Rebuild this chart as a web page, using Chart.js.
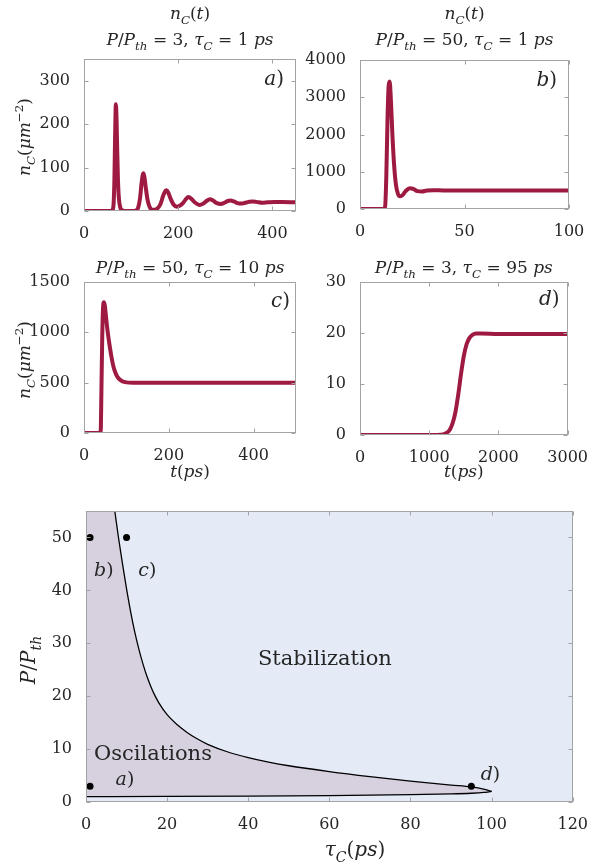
<!DOCTYPE html>
<html>
<head>
<meta charset="utf-8">
<script src="https://cdn.jsdelivr.net/npm/chart.js@4.4.1/dist/chart.umd.min.js"></script>
<style>
html, body { margin: 0; padding: 0; background: #fff; }
#wrap { position: relative; width: 593px; height: 867px; }
#wrap canvas { position: absolute; left: 0; top: 0; }
</style>
</head>
<body>
<div id="wrap">
  <canvas id="chartA" width="593" height="867"></canvas>
  <canvas id="chartB" width="593" height="867"></canvas>
  <canvas id="chartC" width="593" height="867"></canvas>
  <canvas id="chartD" width="593" height="867"></canvas>
  <canvas id="chartMap" width="593" height="867"></canvas>
</div>
<script>
// a) P/Pth = 3, tauC = 1 ps
const tA = [0, 58, 61, 63, 64.5, 66, 67.6, 69, 70.5, 72, 74, 77, 81, 90, 105, 110, 115, 119, 122, 124.5,
            126, 128, 131, 135, 140, 145, 150, 155, 162, 168, 172, 175, 179, 184, 190, 197, 203, 210, 216, 222,
            228, 235, 245, 253, 260, 267, 274, 282, 290, 298, 305, 311, 318, 326, 334, 342, 350, 357, 366, 378,
            390, 405, 420, 450];
const nA = [0, 0, 3, 20, 70, 170, 246, 215, 140, 75, 30, 8, 2, 0, 0, 1, 8, 30, 62, 82,
            87, 80, 55, 25, 8, 3, 3, 5, 15, 35, 45, 48, 42, 28, 15, 10, 12, 18, 27, 32,
            28, 20, 14, 17, 23, 27, 24, 18, 16, 19, 23, 24, 22, 18, 17, 19, 21, 22, 21, 19,
            20, 21, 20.5, 20];

// b) P/Pth = 50, tauC = 1 ps
const tB = [0, 11, 12, 12.6, 13.2, 13.7, 14.2, 14.8, 15.5, 16.3, 17.2, 18.2, 19.2, 20.5, 22, 23.8, 25.5, 27.5, 29.5, 32, 35, 40, 50, 70, 100];
const nB = [0, 0, 60, 900, 2500, 3300, 3420, 2900, 2000, 1200, 650, 400, 340, 380, 490, 560, 540, 480, 470, 495, 505, 500, 500, 500, 500];

// c) P/Pth = 50, tauC = 10 ps
const tC = [0, 38, 39.5, 41, 43, 45, 47, 49, 52, 56, 60, 65, 70, 76, 82, 90, 100, 115, 140, 200, 300, 500];
const nC = [0, 0, 30, 400, 950, 1250, 1300, 1270, 1150, 1000, 880, 750, 650, 580, 540, 515, 503, 500, 500, 500, 500, 500];

// d) P/Pth = 3, tauC = 95 ps
const tD = [0, 1000, 1200, 1250, 1300, 1340, 1380, 1420, 1460, 1500, 1540, 1580, 1620, 1680, 1750, 2000, 3000];
const nD = [0, 0, 0.1, 0.4, 1.1, 2.4, 4.6, 8, 12, 15.5, 17.8, 19, 19.6, 19.9, 19.9, 19.8, 19.8];

// phase map boundary
const tauUp = [7.1, 8, 9, 10, 11, 12, 13, 14, 15, 16, 17, 18, 20, 22.5, 25, 27.5, 30, 35, 40, 45, 50, 60, 70, 80, 90, 95, 98, 100];
const pUp   = [55, 50, 45, 40.3, 36, 32.2, 29, 26.2, 23.8, 21.8, 20.1, 18.7, 16.5, 14.6, 13.1, 11.9, 10.9, 9.45, 8.4, 7.55, 6.85, 5.75, 4.8, 3.95, 3.2, 2.85, 2.45, 2.0];
const tauLow = [0, 20, 40, 60, 80, 90, 95, 98, 100];
const pLow   = [1.0, 1.05, 1.12, 1.22, 1.38, 1.52, 1.65, 1.8, 2.0];
// the region above the top edge, so the fill reaches the frame
const tauTop = [0, 6.2];
const pTop   = [62, 60];

// simulated cases a), b), c), d)
const tauCases = [1, 1, 10, 95];
const pCases   = [3, 50, 50, 3];

// tick labels
const ticksAx = [0, 200, 400],         ticksAy = [0, 100, 200, 300];
const ticksBx = [0, 50, 100],          ticksBy = [0, 1000, 2000, 3000, 4000];
const ticksCx = [0, 200, 400],         ticksCy = [0, 500, 1000, 1500];
const ticksDx = [0, 1000, 2000, 3000], ticksDy = [0, 10, 20, 30];
const ticksMx = [0, 20, 40, 60, 80, 100, 120], ticksMy = [0, 10, 20, 30, 40, 50];

const LINE = '#9E1A41';
const AXIS = '#a3a3a3';
const INK = '#262626';
const SERIF = '"DejaVu Serif", serif';
const W = 593, H = 867, YAX = 60, XAX = 40;

function pts(xs, ys) { return xs.map((x, i) => ({ x: x, y: ys[i] })); }

// draw a line of math-ish text: parts = [[text, kind]], kind r / i / sub / sup
function mathText(ctx, parts, x, y, size, align) {
    const font = k => {
        const sz = (k === 'sub' || k === 'sup') ? size * 0.7 : size;
        const st = (k === 'r' || k === 'sup') ? '' : 'italic ';
        return st + sz + 'px ' + SERIF;
    };
    let w = 0;
    parts.forEach(p => { ctx.font = font(p[1]); w += ctx.measureText(p[0]).width; });
    let cx = align === 'center' ? x - w / 2 : (align === 'right' ? x - w : x);
    ctx.textAlign = 'left';
    ctx.textBaseline = 'alphabetic';
    ctx.fillStyle = INK;
    parts.forEach(p => {
        ctx.font = font(p[1]);
        const dy = p[1] === 'sub' ? size * 0.28 : (p[1] === 'sup' ? -size * 0.42 : 0);
        ctx.fillText(p[0], cx, y + dy);
        cx += ctx.measureText(p[0]).width;
    });
}

function rotText(ctx, parts, x, y, size) {
    ctx.save();
    ctx.translate(x, y);
    ctx.rotate(-Math.PI / 2);
    mathText(ctx, parts, 0, 0, size, 'center');
    ctx.restore();
}

function title2(p, tau) {
    return [['P', 'i'], ['/', 'r'], ['P', 'i'], ['th', 'sub'], [' = ' + p + ', ', 'r'],
            ['τ', 'i'], ['C', 'sub'], [' = ' + tau + ' ', 'r'], ['ps', 'i']];
}
const T_NC = [['n', 'i'], ['C', 'sub'], ['(', 'r'], ['t', 'i'], [')', 'r']];
const Y_NC = [['n', 'i'], ['C', 'sub'], ['(', 'r'], ['μm', 'i'], ['−2', 'sup'], [')', 'r']];
const X_T = [['t', 'i'], ['(', 'r'], ['ps', 'i'], [')', 'r']];

// MATLAB-like box with inward ticks
function framePlugin(bg, extra) {
    return {
        id: 'frame',
        beforeDraw(chart) {
            if (!bg) return;
            const a = chart.chartArea;
            chart.ctx.save();
            chart.ctx.fillStyle = bg;
            chart.ctx.fillRect(a.left, a.top, a.right - a.left, a.bottom - a.top);
            chart.ctx.restore();
        },
        afterDraw(chart) {
            const ctx = chart.ctx, a = chart.chartArea;
            const xs = chart.scales.x, ys = chart.scales.y;
            const L = Math.round(a.left) + 0.5, R = Math.round(a.right) - 0.5;
            const T = Math.round(a.top) + 0.5, B = Math.round(a.bottom) - 0.5;
            ctx.save();
            ctx.strokeStyle = AXIS;
            ctx.lineWidth = 1;
            ctx.beginPath();
            xs.ticks.forEach(t => {
                const px = Math.round(xs.getPixelForValue(t.value)) + 0.5;
                ctx.moveTo(px, B); ctx.lineTo(px, B - 4);
                ctx.moveTo(px, T); ctx.lineTo(px, T + 4);
            });
            ys.ticks.forEach(t => {
                const py = Math.round(ys.getPixelForValue(t.value)) + 0.5;
                ctx.moveTo(L, py); ctx.lineTo(L + 4, py);
                ctx.moveTo(R, py); ctx.lineTo(R - 4, py);
            });
            ctx.stroke();
            ctx.strokeRect(L, T, R - L, B - T);
            extra(chart, ctx, a, xs, ys);
            ctx.restore();
        }
    };
}

function scales(xMax, yMax, xTicks, yTicks) {
    const tickFont = { family: SERIF, size: 16 };
    const plain = v => String(v);
    return {
        x: {
            type: 'linear', min: 0, max: xMax,
            afterFit: s => { s.height = XAX; },
            afterBuildTicks: s => { s.ticks = xTicks.map(v => ({ value: v })); },
            grid: { display: false }, border: { display: false },
            ticks: { color: INK, font: tickFont, padding: 5, maxRotation: 0, autoSkip: false, callback: plain }
        },
        y: {
            type: 'linear', min: 0, max: yMax,
            afterFit: s => { s.width = YAX; },
            afterBuildTicks: s => { s.ticks = yTicks.map(v => ({ value: v })); },
            grid: { display: false }, border: { display: false },
            ticks: { color: INK, font: tickFont, padding: 6, autoSkip: false, callback: plain }
        }
    };
}

// box = plot area in page pixels
function baseOptions(box, sc) {
    return {
        responsive: false, animation: false, devicePixelRatio: 1, events: [],
        layout: { padding: { left: box[0] - YAX, top: box[1], right: W - box[2], bottom: H - box[3] - XAX } },
        plugins: { legend: { display: false }, tooltip: { enabled: false }, filler: { drawTime: 'beforeDatasetsDraw' } },
        scales: sc
    };
}

function seriesChart(id, t, n, box, xMax, yMax, xt, yt, extra) {
    return new Chart(document.getElementById(id), {
        type: 'scatter',
        data: {
            datasets: [{
                data: pts(t, n), showLine: true, borderColor: LINE, borderWidth: 4,
                pointRadius: 0, cubicInterpolationMode: 'monotone', borderJoinStyle: 'round'
            }]
        },
        options: baseOptions(box, scales(xMax, yMax, xt, yt)),
        plugins: [framePlugin(null, extra)]
    });
}

const chartA = seriesChart('chartA', tA, nA, [84, 59, 296, 211], 450, 350, ticksAx, ticksAy,
    (c, ctx, a) => {
        const mid = (a.left + a.right) / 2;
        mathText(ctx, T_NC, mid, 19, 17, 'center');
        mathText(ctx, title2(3, 1), mid, 45, 17, 'center');
        rotText(ctx, Y_NC, 30, 137, 17);
        mathText(ctx, [['a', 'i'], [')', 'r']], a.right - 12, 85, 20, 'right');
    });

const chartB = seriesChart('chartB', tB, nB, [360, 60, 569, 209], 100, 4000, ticksBx, ticksBy,
    (c, ctx, a) => {
        const mid = (a.left + a.right) / 2;
        mathText(ctx, T_NC, mid, 19, 17, 'center');
        mathText(ctx, title2(50, 1), mid, 45, 17, 'center');
        mathText(ctx, [['b', 'i'], [')', 'r']], a.right - 12, 86, 20, 'right');
    });

const chartC = seriesChart('chartC', tC, nC, [84, 282, 296, 433], 500, 1500, ticksCx, ticksCy,
    (c, ctx, a) => {
        const mid = (a.left + a.right) / 2;
        mathText(ctx, title2(50, 10), mid, 273, 17, 'center');
        rotText(ctx, Y_NC, 30, 360, 17);
        mathText(ctx, X_T, mid, 477, 17, 'center');
        mathText(ctx, [['c', 'i'], [')', 'r']], a.right - 6, 307, 20, 'right');
    });

const chartD = seriesChart('chartD', tD, nD, [360, 282, 571, 435], 3000, 30, ticksDx, ticksDy,
    (c, ctx, a) => {
        const mid = (a.left + a.right) / 2;
        mathText(ctx, title2(3, 95), mid, 273, 17, 'center');
        mathText(ctx, X_T, mid, 477, 17, 'center');
        mathText(ctx, [['d', 'i'], [')', 'r']], a.right - 8, 305, 20, 'right');
    });

// phase map labels, in data units (tauC, P/Pth)
const caseLabels = [['a', 7.3, 3.2], ['b', 2.0, 42.8], ['c', 12.9, 42.8], ['d', 97.3, 4.2]];

const chartMap = new Chart(document.getElementById('chartMap'), {
    type: 'scatter',
    data: {
        datasets: [
            {   // oscillation region
                data: pts(tauTop.concat(tauUp), pTop.concat(pUp)), showLine: true, borderWidth: 0,
                pointRadius: 0, cubicInterpolationMode: 'monotone',
                backgroundColor: '#D7D1DF', fill: 2, order: 5
            },
            {
                data: pts(tauUp, pUp), showLine: true, borderColor: '#000', borderWidth: 1.3,
                pointRadius: 0, cubicInterpolationMode: 'monotone', fill: false
            },
            {
                data: pts(tauLow, pLow), showLine: true, borderColor: '#000', borderWidth: 1.3,
                pointRadius: 0, cubicInterpolationMode: 'monotone', fill: false
            },
            {
                data: pts(tauCases, pCases), showLine: false, pointRadius: 3.5,
                pointBackgroundColor: '#000', pointBorderWidth: 0, order: -1
            }
        ]
    },
    options: baseOptions([86, 511, 576, 802], scales(120, 55, ticksMx, ticksMy)),
    plugins: [framePlugin('#E4EBF6', (c, ctx, a, xs, ys) => {
        mathText(ctx, [['τ', 'i'], ['C', 'sub'], ['(', 'r'], ['ps', 'i'], [')', 'r']], 355, 856, 20, 'center');
        rotText(ctx, [['P', 'i'], ['/', 'r'], ['P', 'i'], ['th', 'sub']], 35, 660, 20);
        mathText(ctx, [['Stabilization', 'r']], xs.getPixelForValue(58.9), ys.getPixelForValue(25.8), 21, 'center');
        mathText(ctx, [['Oscilations', 'r']], xs.getPixelForValue(2.0), ys.getPixelForValue(7.9), 21, 'left');
        caseLabels.forEach(l => {
            mathText(ctx, [[l[0], 'i'], [')', 'r']], xs.getPixelForValue(l[1]), ys.getPixelForValue(l[2]), 19, 'left');
        });
    })]
});
</script>
</body>
</html>
